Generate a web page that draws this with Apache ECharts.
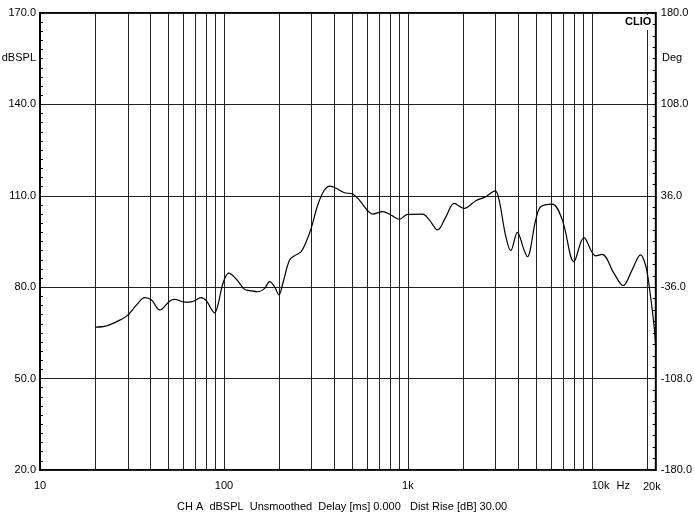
<!DOCTYPE html>
<html>
<head>
<meta charset="utf-8">
<script src="https://cdn.jsdelivr.net/npm/echarts@6/dist/echarts.min.js"></script>
<style>
html,body{margin:0;padding:0;background:#fff;}
#chart{width:695px;height:522px;}
</style>
</head>
<body>
<div id="chart"></div>
<script>
// Frequency (Hz)
var freqs = [20, 23, 27.8, 30.1, 33.5, 37.1, 40.4, 44.8, 50.8, 54, 61.2, 66.5, 75.4, 80.3, 89, 92.8, 98.8, 106.4, 116.8, 129.5, 137.9, 153, 166.3, 177, 188.4, 198.9, 209, 227.3, 241.9, 263, 280, 298, 323.6, 351.9, 377.8, 407.3, 451.7, 501.1, 544.8, 604.3, 643.6, 729.1, 809.5, 898.1, 996.3, 1202, 1307, 1450, 1610, 1786, 2023, 2342, 2653, 2980, 3133, 3407, 3626, 3937, 4281, 4461, 4955, 5275, 6099, 6910, 7995, 9061, 10486, 11391, 13183, 14805, 16565, 18400, 19584, 20410, 21725, 22250];
// SPL (dB)
var spl = [66.9, 67.3, 69.5, 70.9, 74.2, 76.6, 75.8, 72.5, 75.5, 76.0, 75.1, 75.2, 76.6, 75.5, 71.6, 74.2, 81.3, 84.6, 82.6, 79.3, 78.9, 78.5, 79.6, 81.8, 80.2, 77.5, 81.3, 88.9, 90.3, 91.7, 94.9, 99.3, 107.0, 111.9, 113.2, 112.5, 111.0, 110.6, 108.6, 105.1, 104.0, 104.8, 103.7, 102.3, 103.9, 104.0, 102.1, 98.8, 103.1, 107.5, 105.9, 108.4, 109.7, 111.6, 108.6, 96.6, 92.0, 98.0, 92.2, 90.0, 102.1, 106.4, 107.3, 102.1, 88.4, 96.3, 90.3, 90.8, 84.6, 80.5, 85.7, 90.6, 87.3, 81.3, 68.2, 60.7];
// vertical grid frequencies
var gridFreqs = [20, 30, 40, 50, 60, 70, 80, 90, 100, 200, 300, 400, 500, 600, 700, 800, 900, 1000, 2000, 3000, 4000, 5000, 6000, 7000, 8000, 9000, 10000, 20000];

var FONT = '"Liberation Sans", Arial, sans-serif';
var chart = echarts.init(document.getElementById('chart'));
var data = freqs.map(function(f, i){ return [f, spl[i]]; });

chart.setOption({
  animation: false,
  backgroundColor: '#fff',
  grid: {left: 40, right: 38, top: 13, bottom: 52, show: true, borderColor: '#000', borderWidth: 2, backgroundColor: 'transparent'},
  xAxis: {
    type: 'log', logBase: 10, min: 10, max: 22280,
    axisLine: {show: false},
    axisTick: {show: false},
    splitLine: {show: false},
    axisLabel: {
      margin: 10, color: '#000', fontSize: 11, fontFamily: FONT,
      showMaxLabel: false,
      formatter: function(v){
        if (v === 10000) return '{k|10k}{h|Hz}';
        if (v >= 1000) return (v/1000) + 'k';
        return String(v);
      },
      rich: {
        k: {fontSize: 11, fontFamily: FONT, color: '#000', padding: [0,0,0,38]},
        h: {fontSize: 11, fontFamily: FONT, color: '#000', padding: [0,0,0,7]}
      }
    }
  },
  yAxis: [{
    type: 'value', min: 20, max: 170, interval: 30,
    axisLine: {show: false},
    axisTick: {show: true, inside: true, length: 3, lineStyle: {color: '#000'}},
    minorTick: {show: true, splitNumber: 10, length: 3, lineStyle: {color: '#000'}},
    splitLine: {show: true, lineStyle: {color: '#222', width: 1}},
    axisLabel: {margin: 4, color: '#000', fontSize: 11, fontFamily: FONT, formatter: function(v){ return v.toFixed(1); }}
  }, {
    type: 'value', min: -180, max: 180, interval: 72, position: 'right',
    axisLine: {show: false},
    axisTick: {show: true, inside: true, length: 3, lineStyle: {color: '#000'}},
    minorTick: {show: true, splitNumber: 8, length: 3, lineStyle: {color: '#000'}},
    splitLine: {show: false},
    axisLabel: {margin: 5, color: '#000', fontSize: 11, fontFamily: FONT, formatter: function(v){ return v.toFixed(1); }}
  }],
  series: [{
    type: 'line', data: data, yAxisIndex: 0,
    showSymbol: false, smooth: 0.35,
    lineStyle: {color: '#000', width: 1.2},
    clip: true, z: 5,
    markLine: {
      silent: true, symbol: 'none', animation: false,
      label: {show: false},
      lineStyle: {color: '#222', width: 1, type: 'solid'},
      data: gridFreqs.map(function(f){ return {xAxis: f}; })
    }
  }],
  graphic: [
    {type: 'text', left: null, right: 695 - 36, top: 52, style: {text: 'dBSPL', fill: '#000', font: '11px ' + FONT, textAlign: 'right'}},
    {type: 'text', left: 662, top: 52, style: {text: 'Deg', fill: '#000', font: '11px ' + FONT}},
    {type: 'text', z: 100, left: 624, top: 15, style: {text: 'CLIO', fill: '#000', font: 'bold 11px ' + FONT, backgroundColor: '#fff', padding: [1,1,3,1]}},
    {type: 'text', left: 643, top: 481, style: {text: '20k', fill: '#000', font: '11px ' + FONT}},
    {type: 'text', left: 177, top: 501, style: {text: 'CH A  dBSPL  Unsmoothed  Delay [ms] 0.000   Dist Rise [dB] 30.00', fill: '#000', font: '11px ' + FONT}}
  ]
});
</script>
</body>
</html>
